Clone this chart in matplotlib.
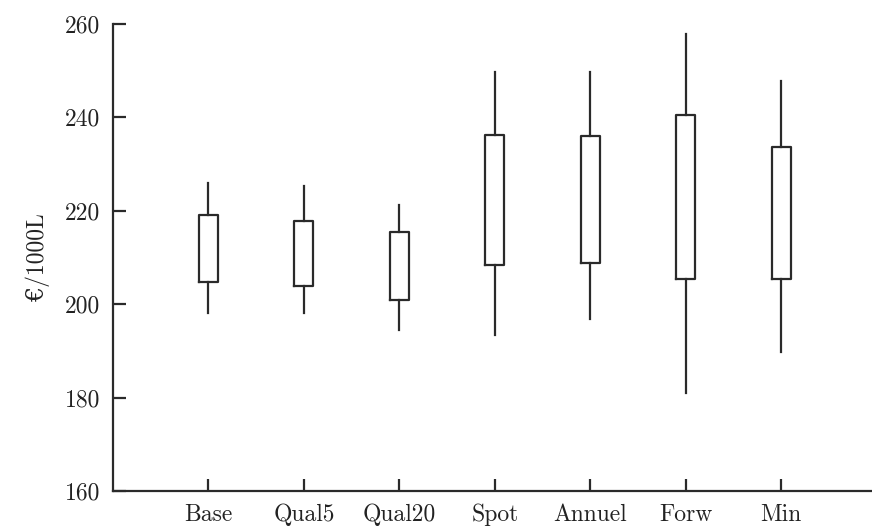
import matplotlib
matplotlib.use("Agg")
import matplotlib.pyplot as plt

categories = ["Base", "Qual5", "Qual20", "Spot", "Annuel", "Forw", "Min"]
whisker_low = [198.1, 198.1, 194.5, 193.4, 196.8, 180.9, 189.7]
box_low = [204.7, 203.8, 200.9, 208.4, 208.9, 205.3, 205.3]
box_high = [219.0, 217.9, 215.5, 236.2, 236.0, 240.5, 233.7]
whisker_high = [226.0, 225.3, 221.2, 249.8, 249.8, 257.9, 247.7]
y_ticks = [160, 180, 200, 220, 240, 260]

plt.rcParams["font.family"] = ["cmr10", "DejaVu Serif"]
plt.rcParams["axes.unicode_minus"] = False

fig = plt.figure(figsize=(8.72, 5.29), dpi=100)
ax = fig.add_axes([113 / 872, 1 - 491 / 529, 1 - 113 / 872, (491 - 24) / 529])

stats = []
for name, wl, q1, q3, wh in zip(categories, whisker_low, box_low, box_high, whisker_high):
    stats.append({"label": name, "whislo": wl, "q1": q1, "med": q1, "q3": q3, "whishi": wh})

col = "#2a2a2a"
ax.bxp(
    stats,
    positions=range(1, len(categories) + 1),
    widths=0.2,
    showcaps=False,
    showfliers=False,
    boxprops=dict(color=col, linewidth=1.6),
    whiskerprops=dict(color=col, linewidth=1.6),
    medianprops=dict(linewidth=0),
)

ax.set_xlim(0, 7.95)
ax.set_ylim(160, 260)
ax.set_yticks(y_ticks)
ax.set_xticks(range(1, len(categories) + 1))
ax.set_xticklabels(categories)

for side in ["top", "right"]:
    ax.spines[side].set_visible(False)
for side in ["left", "bottom"]:
    ax.spines[side].set_linewidth(1.6)
    ax.spines[side].set_color(col)

ax.tick_params(direction="in", length=9, width=1.6, color=col, labelsize=17, labelcolor="#222222")
ax.tick_params(axis="y", pad=9)
ax.tick_params(axis="x", pad=9)
ax.set_ylabel("€/1000L", fontsize=17, color="#222222", labelpad=11)

fig.savefig("out.png", dpi=100)
